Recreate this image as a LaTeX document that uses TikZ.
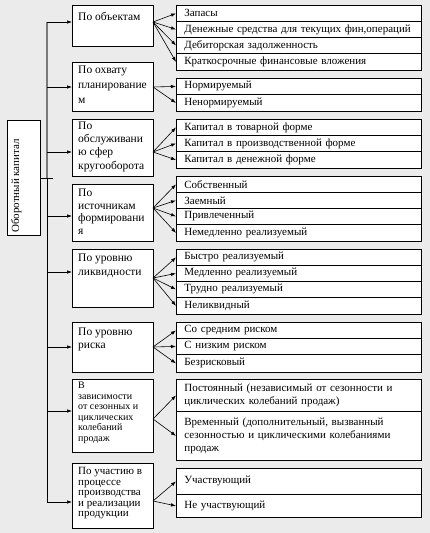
\documentclass[tikz,border=0pt]{standalone}
\usepackage{fontspec}
\setmainfont{Liberation Serif}
\usetikzlibrary{arrows.meta,positioning}
\definecolor{sheet}{HTML}{EBEBEB}
\definecolor{spine}{HTML}{7A7A7A}

\begin{document}
\begin{tikzpicture}[x=1pt,y=-1pt,
  box/.style={draw,fill=white,line width=0.8pt,anchor=north west,inner sep=0pt},
  catbox/.style={box,minimum width=81pt},
  cattext/.style={anchor=north west,inner sep=0pt,align=left,font=\fontsize{11.5}{#1}\selectfont},
  smalltext/.style={anchor=north west,inner sep=0pt,align=left,font=\fontsize{#1}{10.5}\selectfont},
  rowbox/.style={box,text width=229pt,inner xsep=8pt,align=left,font=\fontsize{11}{13}\selectfont},
  arr/.style={-{Latex[length=5pt,width=3.5pt]},line width=0.6pt}]
  \useasboundingbox (0,0) rectangle (430,533);
  \fill[sheet] (0,0) rectangle (430,533);
  \node[box,minimum width=33pt,minimum height=115pt] (main) at (7,120) {};
  \node[rotate=90,anchor=north west,inner sep=0pt,font=\fontsize{11}{13}\selectfont] (maintext) at (11,233) {Оборотный капитал};
  \node[catbox,minimum height=41pt] (c1) at (72,5) {};
  \node[catbox,minimum height=49pt] (c2) at (72,62) {};
  \node[catbox,minimum height=57pt] (c3) at (72,119) {};
  \node[catbox,minimum height=57pt] (c4) at (72,184) {};
  \node[catbox,minimum height=58pt] (c5) at (72,249) {};
  \node[catbox,minimum height=50pt] (c6) at (72,322) {};
  \node[catbox,minimum height=73pt] (c7) at (72,379) {};
  \node[catbox,minimum height=65pt] (c8) at (72,463) {};
  \node[cattext=14,below right=6.6pt and 6pt of c1.north west] (t1) {По объектам};
  \node[cattext=15,below right=3.6pt and 6pt of c2.north west] (t2) {По охвату\\планирование\\м};
  \node[cattext=13.3,below right=2.6pt and 6pt of c3.north west] (t3) {По\\обслуживани\\ю сфер\\кругооборота};
  \node[cattext=12.7,below right=4.6pt and 6pt of c4.north west] (t4) {По\\источникам\\формировани\\я};
  \node[cattext=14,below right=4.6pt and 6pt of c5.north west] (t5) {По уровню\\ликвидности};
  \node[cattext=13,below right=5.6pt and 6pt of c6.north west] (t6) {По уровню\\риска};
  \node[smalltext=10,below right=2.9pt and 6pt of c7.north west] (t7) {В\\зависимости\\от сезонных и\\циклических\\колебаний\\продаж};
  \node[smalltext=11,below right=4.5pt and 6pt of c8.north west] (t8) {По участию в\\процессе\\производства\\и реализации\\продукции};
  \node[rowbox,minimum height=16pt] (r11) at (176,5) {Запасы};
  \node[rowbox,minimum height=16pt] (r12) at (176,21) {Денежные средства для текущих фин,операций};
  \node[rowbox,minimum height=16pt] (r13) at (176,37) {Дебиторская задолженность};
  \node[rowbox,minimum height=17pt] (r14) at (176,53) {Краткосрочные финансовые вложения};
  \node[rowbox,minimum height=16pt] (r21) at (176,78) {Нормируемый};
  \node[rowbox,minimum height=17pt] (r22) at (176,94) {Ненормируемый};
  \node[rowbox,minimum height=16pt] (r31) at (176,119) {Капитал в товарной форме};
  \node[rowbox,minimum height=16pt] (r32) at (176,135) {Капитал в производственной форме};
  \node[rowbox,minimum height=17pt] (r33) at (176,151) {Капитал в денежной форме};
  \node[rowbox,minimum height=16pt] (r41) at (176,176) {Собственный};
  \node[rowbox,minimum height=16pt] (r42) at (176,192) {Заемный};
  \node[rowbox,minimum height=16pt] (r43) at (176,208) {Привлеченный};
  \node[rowbox,minimum height=17pt] (r44) at (176,224) {Немедленно реализуемый};
  \node[rowbox,minimum height=16pt] (r51) at (176,249) {Быстро реализуемый};
  \node[rowbox,minimum height=16pt] (r52) at (176,265) {Медленно реализуемый};
  \node[rowbox,minimum height=16pt] (r53) at (176,281) {Трудно реализуемый};
  \node[rowbox,minimum height=17pt] (r54) at (176,297) {Неликвидный};
  \node[rowbox,minimum height=16pt] (r61) at (176,322) {Со средним риском};
  \node[rowbox,minimum height=16pt] (r62) at (176,338) {С низким риском};
  \node[rowbox,minimum height=18pt] (r63) at (176,354) {Безрисковый};
  \node[rowbox,minimum height=32pt] (r71) at (176,379) {Постоянный (независимый от сезонности и\\циклических колебаний продаж)};
  \node[rowbox,minimum height=49pt] (r72) at (176,411) {Временный (дополнительный, вызванный\\сезонностью и циклическими колебаниями\\продаж};
  \node[rowbox,minimum height=26pt] (r81) at (176,468) {Участвующий};
  \node[rowbox,minimum height=23pt] (r82) at (176,494) {Не участвующий};
  \coordinate (s1) at (47,22); \coordinate (s2) at (47,87); \coordinate (s3) at (47,152); \coordinate (s4) at (47,216);
  \coordinate (s5) at (47,272); \coordinate (s6) at (47,347); \coordinate (s7) at (47,411); \coordinate (s8) at (47,502);
  \coordinate (sj) at (47,178);
  \draw[spine,line width=2pt] (s1) -- (sj);
  \draw[line width=0.6pt] (sj) -- (s8);
  \draw[line width=0.6pt] (main.east |- sj) -- ([xshift=6pt]sj);
  \foreach \i in {1,...,8} \draw[arr] (s\i) -- (s\i -| c\i.west);
  \coordinate (f1) at (153,22); \coordinate (f2) at (153,87); \coordinate (f3) at (153,152); \coordinate (f4) at (153,208);
  \coordinate (f5) at (153,278); \coordinate (f6) at (153,347); \coordinate (f7) at (153,419); \coordinate (f8) at (153,501);
  \foreach \r in {r11,r12,r13,r14} \draw[arr] (f1) -- (\r.west);
  \foreach \r in {r21,r22} \draw[arr] (f2) -- (\r.west);
  \foreach \r in {r31,r32,r33} \draw[arr] (f3) -- (\r.west);
  \foreach \r in {r41,r42,r43,r44} \draw[arr] (f4) -- (\r.west);
  \foreach \r in {r51,r52,r53,r54} \draw[arr] (f5) -- (\r.west);
  \foreach \r in {r61,r62,r63} \draw[arr] (f6) -- (\r.west);
  \foreach \r in {r71,r72} \draw[arr] (f7) -- (\r.west);
  \foreach \r in {r81,r82} \draw[arr] (f8) -- (\r.west);
\end{tikzpicture}
\end{document}
